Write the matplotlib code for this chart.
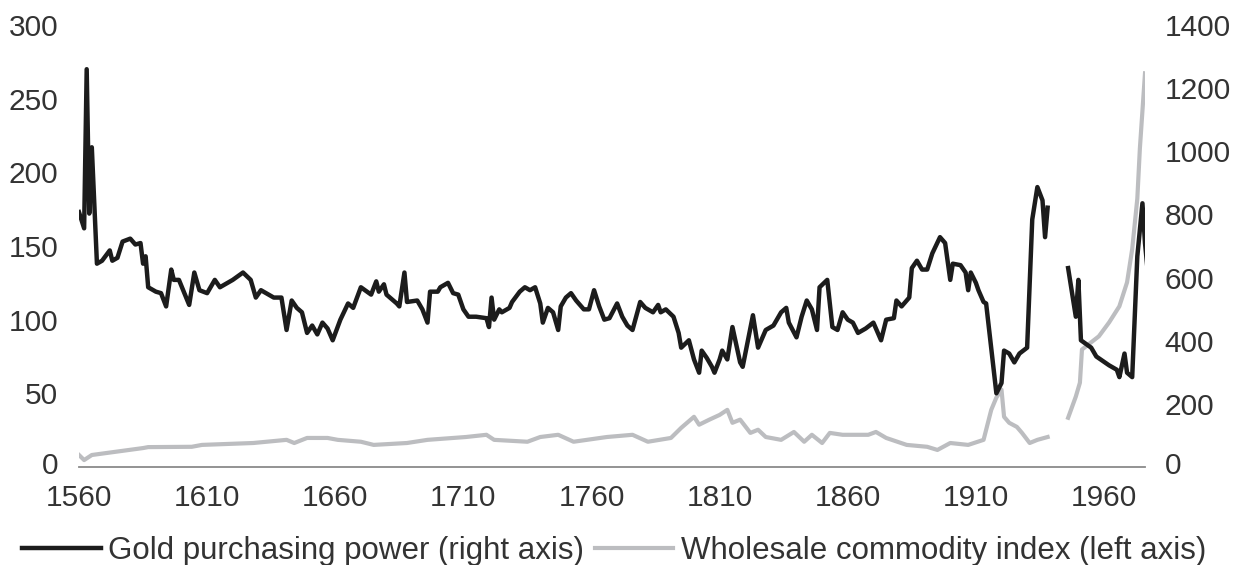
import numpy as np
import matplotlib
matplotlib.use("Agg")
import matplotlib.pyplot as plt
from matplotlib.transforms import ScaledTranslation

# Black series (plotted against the left scale)
gold_years = [1560, 1562, 1563, 1564, 1565, 1567, 1569, 1572, 1573, 1575, 1577, 1580, 1582, 1584,
              1585, 1586, 1587, 1590, 1592, 1594, 1596, 1597, 1599, 1603, 1605, 1607, 1610, 1613,
              1615, 1618, 1620, 1624, 1627, 1629, 1631, 1636, 1639, 1641, 1643, 1645, 1647, 1649,
              1651, 1653, 1655, 1657, 1659, 1662, 1665, 1667, 1670, 1674, 1676, 1677, 1679, 1680,
              1684, 1685, 1687, 1688, 1692, 1694, 1696, 1697, 1700, 1701, 1704, 1706, 1708, 1710,
              1712, 1715, 1719, 1720, 1721, 1722, 1724, 1725, 1728, 1729, 1732, 1734, 1736, 1738,
              1740, 1741, 1743, 1745, 1747, 1748, 1750, 1752, 1754, 1757, 1759, 1761, 1763, 1765,
              1767, 1770, 1772, 1774, 1776, 1779, 1781, 1784, 1786, 1787, 1789, 1792, 1794, 1795,
              1798, 1800, 1802, 1803, 1805, 1807, 1808, 1810, 1811, 1813, 1815, 1817, 1818, 1819,
              1823, 1825, 1828, 1831, 1834, 1836, 1837, 1840, 1842, 1844, 1846, 1848, 1849, 1852,
              1854, 1856, 1858, 1860, 1862, 1864, 1867, 1870, 1873, 1875, 1878, 1879, 1881, 1884,
              1885, 1887, 1889, 1891, 1893, 1896, 1898, 1900, 1901, 1904, 1906, 1907, 1908, 1910,
              1911, 1913, 1914, 1918, 1920, 1921, 1923, 1925, 1927, 1930, 1932, 1933, 1934, 1936,
              1937, 1938, 1942,
              1946, 1949, 1950, 1951, 1955, 1957, 1962, 1965, 1966, 1968, 1969, 1971, 1973, 1975,
              1976, 1977]
gold_values = [173, 162, 270, 172, 217, 138, 140, 147, 140, 142, 153, 155, 151, 152,
               138, 143, 122, 119, 118, 109, 134, 127, 127, 110, 132, 120, 118, 127,
               122, 125, 127, 132, 127, 115, 120, 115, 115, 93, 113, 108, 105, 91,
               96, 90, 98, 94, 86, 100, 111, 108, 122, 117, 126, 119, 124, 117,
               111, 109, 132, 112, 113, 107, 98, 119, 119, 122, 125, 118, 117, 107,
               102, 102, 101, 95, 115, 100, 107, 105, 108, 112, 119, 122, 120, 122,
               111, 98, 108, 105, 93, 109, 115, 118, 113, 107, 107, 120, 109, 100,
               101, 111, 102, 96, 93, 112, 108, 105, 110, 105, 107, 102, 91, 81,
               86, 73, 64, 79, 74, 68, 64, 73, 79, 73, 95, 79, 71, 68,
               103, 81, 93, 96, 105, 108, 98, 88, 102, 113, 107, 93, 122, 127,
               95, 93, 105, 100, 98, 91, 94, 98, 86, 100, 101, 113, 109, 115,
               135, 140, 134, 134, 145, 156, 152, 127, 138, 137, 132, 120, 132, 125,
               120, 112, 111, 50, 57, 79, 77, 71, 77, 81, 168, 179, 190, 181,
               156, 176, np.nan,
               135, 102, 127, 86, 81, 75, 69, 66, 61, 77, 64, 61, 143, 179,
               152, 134]

# Grey series (plotted against the right scale)
index_years = [1560, 1562, 1565, 1585, 1587, 1604, 1608, 1628, 1641, 1644, 1649, 1657, 1661,
               1670, 1675, 1688, 1696, 1711, 1719, 1722, 1735, 1740, 1747, 1753, 1766, 1776,
               1782, 1791, 1795, 1800, 1802, 1806, 1810, 1813, 1815, 1818, 1822, 1825, 1828,
               1834, 1839, 1843, 1846, 1850, 1853, 1858, 1868, 1871, 1875, 1883, 1891, 1895,
               1900, 1907, 1913, 1916, 1918, 1920, 1921, 1923, 1926, 1928, 1931, 1934, 1938,
               1942,
               1946, 1949, 1950.6, 1951.4, 1955, 1958, 1962, 1966, 1969, 1971, 1973, 1974, 1976]
index_values = [38, 22, 38, 60, 63, 64, 70, 76, 86, 76, 92, 92, 86,
                80, 70, 76, 86, 95, 102, 86, 80, 95, 102, 80, 95, 102,
                80, 92, 124, 159, 134, 150, 165, 181, 140, 150, 108, 118, 95,
                86, 111, 80, 102, 76, 108, 102, 102, 111, 92, 70, 64, 54,
                76, 70, 86, 181, 220, 245, 159, 140, 127, 108, 76, 86, 95,
                np.nan,
                156, 223, 267, 372, 395, 414, 458, 509, 585, 690, 850, 1009, 1247]

left_ticks = [0, 50, 100, 150, 200, 250, 300]
right_ticks = [0, 200, 400, 600, 800, 1000, 1200, 1400]
x_ticks = [1560, 1610, 1660, 1710, 1760, 1810, 1860, 1910, 1960]

label_gold = "Gold purchasing power (right axis)"
label_index = "Wholesale commodity index (left axis)"

plt.rcParams['font.family'] = ['Liberation Sans', 'DejaVu Sans']
text_color = '#333333'
black = '#1c1c1c'
grey = '#bcbdc0'

fig = plt.figure(figsize=(12.41, 5.65), dpi=100)
ax = fig.add_axes([79/1241, 1 - 467/565, (1145 - 79)/1241, (467 - 25)/565])
ax2 = ax.twinx()

l2, = ax2.plot(index_years, index_values, color=grey, lw=3.0, solid_joinstyle='round', zorder=1)
l1, = ax.plot(gold_years, gold_values, color=black, lw=3.2, solid_joinstyle='round', zorder=3)
ax.set_zorder(ax2.get_zorder() + 1)
ax.patch.set_visible(False)

ax.set_xlim(1560, 1976)
ax.set_ylim(0, 300)
ax2.set_ylim(0, 1400)
ax.set_xticks(x_ticks)
ax.set_yticks(left_ticks)
ax2.set_yticks(right_ticks)

for a in (ax, ax2):
    for s in ('top', 'left', 'right', 'bottom'):
        a.spines[s].set_visible(False)
ax.spines['bottom'].set_visible(True)
ax.spines['bottom'].set_color('#8a8a8a')
ax.spines['bottom'].set_linewidth(1.3)

ax.tick_params(axis='x', length=0, pad=12, labelsize=21.5, labelcolor=text_color)
ax.tick_params(axis='y', length=0, pad=15, labelsize=21.5, labelcolor=text_color)
ax2.tick_params(axis='y', length=0, pad=14, labelsize=21.5, labelcolor=text_color)

# lift the two zero labels a touch so they clear the first year label
shift = ScaledTranslation(0, 3 / 72, fig.dpi_scale_trans)
for lab in (ax.get_yticklabels()[0], ax2.get_yticklabels()[0]):
    lab.set_transform(lab.get_transform() + shift)

fig.legend([l1, l2], [label_gold, label_index], loc='lower left',
           bbox_to_anchor=(0.003, -0.035), ncol=2, frameon=False,
           fontsize=22.5, handlelength=2.5, handletextpad=0.25, columnspacing=0.35,
           labelcolor=text_color, borderaxespad=0.2)

fig.savefig('out.png', dpi=100)
